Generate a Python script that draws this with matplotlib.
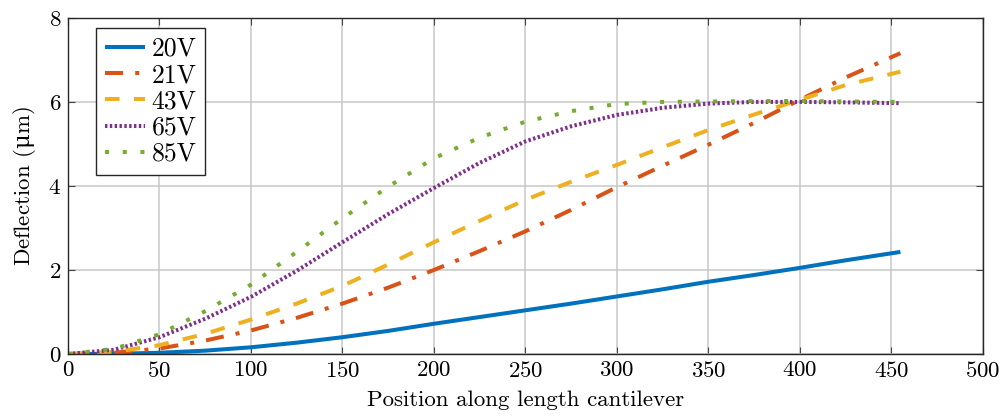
import matplotlib
matplotlib.use('Agg')
import matplotlib.pyplot as plt

# positions along the cantilever
x = [0, 25, 50, 75, 100, 125, 150, 175, 200, 225, 250, 275, 300, 325, 350, 375, 400, 425, 455]

# deflection (um) for each voltage
v20 = [0, 0.005, 0.03, 0.08, 0.16, 0.27, 0.40, 0.55, 0.72, 0.88, 1.04, 1.20, 1.37, 1.54, 1.72, 1.88, 2.05, 2.23, 2.43]
v21 = [0, 0.03, 0.13, 0.32, 0.56, 0.86, 1.20, 1.58, 2.00, 2.45, 2.92, 3.43, 3.97, 4.48, 4.98, 5.50, 6.05, 6.58, 7.16]
v43 = [0, 0.05, 0.21, 0.48, 0.82, 1.20, 1.62, 2.13, 2.66, 3.17, 3.67, 4.10, 4.50, 4.92, 5.33, 5.70, 6.05, 6.40, 6.72]
v65 = [0, 0.10, 0.40, 0.84, 1.36, 1.98, 2.66, 3.33, 3.95, 4.55, 5.06, 5.42, 5.69, 5.86, 5.96, 6.00, 6.00, 5.99, 5.97]
v85 = [0, 0.12, 0.47, 1.02, 1.65, 2.43, 3.23, 3.98, 4.66, 5.15, 5.53, 5.78, 5.95, 6.00, 6.01, 6.02, 6.02, 6.01, 6.00]

labels = ['20V', '21V', '43V', '65V', '85V']
colors = ['#0072BD', '#D95319', '#EDB120', '#7E2F8E', '#77AC30']

plt.rcParams['font.family'] = ['cmr10', 'DejaVu Serif']
plt.rcParams['axes.formatter.use_mathtext'] = True
plt.rcParams['mathtext.fontset'] = 'custom'
plt.rcParams['mathtext.rm'] = 'DejaVu Serif'
plt.rcParams['mathtext.it'] = 'DejaVu Serif:italic'
plt.rcParams['font.size'] = 16.5

fig = plt.figure(figsize=(10.03, 4.16), dpi=100)
ax = fig.add_axes([0.0678, 0.149, 0.912, 0.808])

lw = 2.9
ax.plot(x, v20, color=colors[0], lw=lw, label=labels[0], solid_capstyle='butt')
ax.plot(x, v21, color=colors[1], lw=lw, label=labels[1], dashes=(4.5, 3, 1, 3))
ax.plot(x, v43, color=colors[2], lw=lw, label=labels[2], dashes=(3.6, 3.6))
ax.plot(x, v65, color=colors[3], lw=lw, label=labels[3], dashes=(0.6, 0.6))
ax.plot(x, v85, color=colors[4], lw=lw, label=labels[4], dashes=(1, 3.4))

ax.set_xlim(0, 500)
ax.set_ylim(0, 8)
ax.set_xticks(range(0, 501, 50))
ax.set_yticks(range(0, 9, 2))
ax.grid(True, color='#c8c8c8', lw=1.1)
ax.set_axisbelow(True)
ax.tick_params(direction='in', top=True, right=True, length=5, color='#444444', pad=5)
for s in ax.spines.values():
    s.set_color('#262626')
    s.set_linewidth(1.0)

ax.set_xlabel('Position along length cantilever', labelpad=7)
ax.set_ylabel(r'Deflection ($\mathrm{\mu}$m)', labelpad=7)

leg = ax.legend(loc='upper left', bbox_to_anchor=(0.031, 0.970), borderaxespad=0,
                fancybox=False, edgecolor='#262626', framealpha=1, handlelength=1.55,
                borderpad=0.35, labelspacing=0.1, handletextpad=0.25, fontsize=18.5)
leg.get_frame().set_linewidth(1.0)

fig.savefig('out.png', dpi=100)
